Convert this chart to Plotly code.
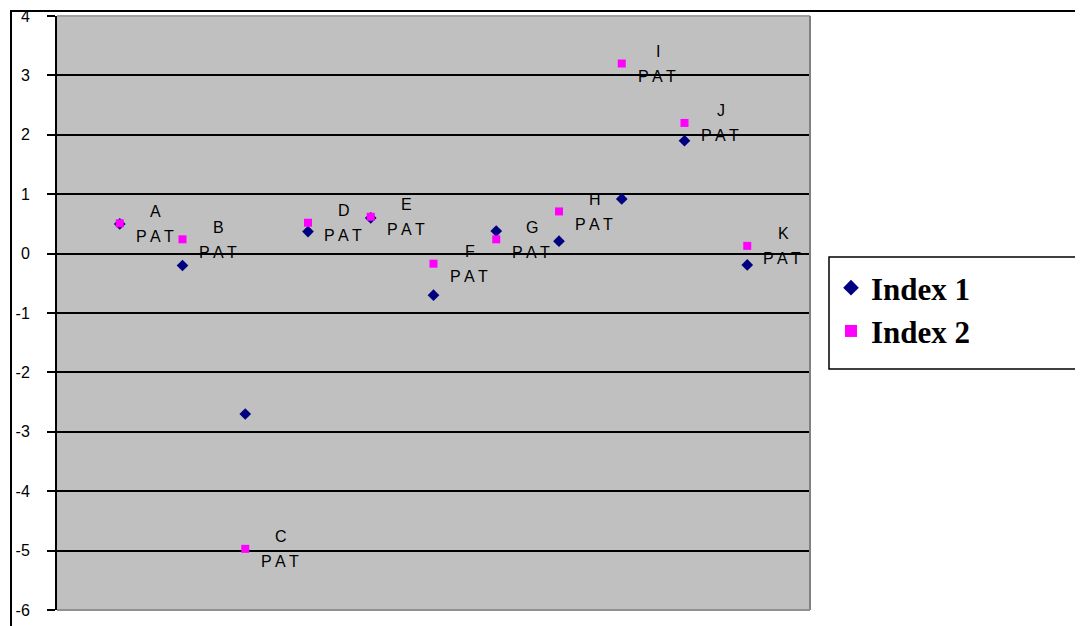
import plotly.graph_objects as go

categories = ["A", "B", "C", "D", "E", "F", "G", "H", "I", "J", "K"]
positions = [1, 2, 3, 4, 5, 6, 7, 8, 9, 10, 11]
index1 = [0.5, -0.2, -2.7, 0.37, 0.6, -0.7, 0.38, 0.21, 0.92, 1.9, -0.19]
index2 = [0.51, 0.24, -4.97, 0.52, 0.62, -0.17, 0.24, 0.71, 3.2, 2.2, 0.13]
label_suffix = "P A T"
y_ticks = [-6, -5, -4, -3, -2, -1, 0, 1, 2, 3, 4]
y_tick_text = ["-6", "-5", "-4", "-3", "-2", "-1", "0", "1", "2", "3", "4"]

OFF = 8  # default page body margin
W, H = 1083 - OFF, 626 - OFF
L, R, T, B = 57 - OFF, 810 - OFF, 16 - OFF, 610 - OFF


def px_x(p):
    return (p - OFF - L) / (R - L)


def px_y(p):
    return (B - (p - OFF)) / (B - T)


fig = go.Figure()
fig.add_trace(go.Scatter(
    x=positions, y=index1, mode="markers", name="Index 1",
    marker=dict(symbol="diamond", size=9, color="#000080"),
))
fig.add_trace(go.Scatter(
    x=positions, y=index2, mode="markers", name="Index 2",
    marker=dict(symbol="square", size=8, color="#FF00FF"),
))

lab_font = dict(family="Liberation Sans, Arial, sans-serif", size=16, color="#000000")
for xv, yv, c in zip(positions, index2, categories):
    fig.add_annotation(x=xv, y=yv, text=c, showarrow=False, xshift=36, yshift=12,
                       font=lab_font, xanchor="center", yanchor="middle")
    fig.add_annotation(x=xv, y=yv, text=label_suffix, showarrow=False, xshift=35, yshift=-13,
                       font=lab_font, xanchor="center", yanchor="middle")

shapes = [
    # outer chart frame
    dict(type="rect", xref="paper", yref="paper",
         x0=px_x(11), x1=px_x(1110), y0=px_y(11), y1=px_y(660),
         line=dict(color="#000000", width=2), layer="above"),
    # plot area border (top, right, bottom)
    dict(type="line", xref="paper", yref="paper", x0=0, x1=1, y0=1, y1=1,
         line=dict(color="#A0A0A0", width=2), layer="above"),
    dict(type="line", xref="paper", yref="paper", x0=1, x1=1, y0=0, y1=1,
         line=dict(color="#808080", width=2), layer="above"),
    dict(type="line", xref="paper", yref="paper", x0=0, x1=1, y0=0, y1=0,
         line=dict(color="#909090", width=2), layer="above"),
    # legend box
    dict(type="rect", xref="paper", yref="paper",
         x0=px_x(829), x1=px_x(1110), y0=px_y(257), y1=px_y(369),
         line=dict(color="#000000", width=1.5), fillcolor="white", layer="below"),
]

fig.update_layout(
    width=W, height=H,
    margin=dict(l=L, r=W - R, t=T, b=H - B, autoexpand=False),
    paper_bgcolor="white",
    plot_bgcolor="#C0C0C0",
    showlegend=True,
    legend=dict(
        x=px_x(831), y=px_y(261), xanchor="left", yanchor="top",
        bgcolor="rgba(0,0,0,0)", borderwidth=0,
        font=dict(family="Liberation Serif, Times New Roman, serif", size=31,
                  color="#000000", weight="bold"),
        itemsizing="constant", tracegroupgap=0,
    ),
    shapes=shapes,
    xaxis=dict(range=[0, 12], showgrid=False, zeroline=False, showticklabels=False,
               showline=False, ticks="", automargin=False),
    yaxis=dict(range=[-6, 4], tickvals=y_ticks, ticktext=y_tick_text, automargin=False,
               showgrid=True, gridcolor="#000000",
               gridwidth=1.5, zeroline=False, showline=True, linecolor="#000000",
               linewidth=2, ticks="outside", ticklen=8, tickcolor="#000000",
               tickwidth=1.5, ticklabelstandoff=14, ticklabeloverflow="allow",
               tickfont=dict(family="Liberation Sans, Arial, sans-serif", size=16,
                             color="#000000")),
)

fig.write_html("out.html")
